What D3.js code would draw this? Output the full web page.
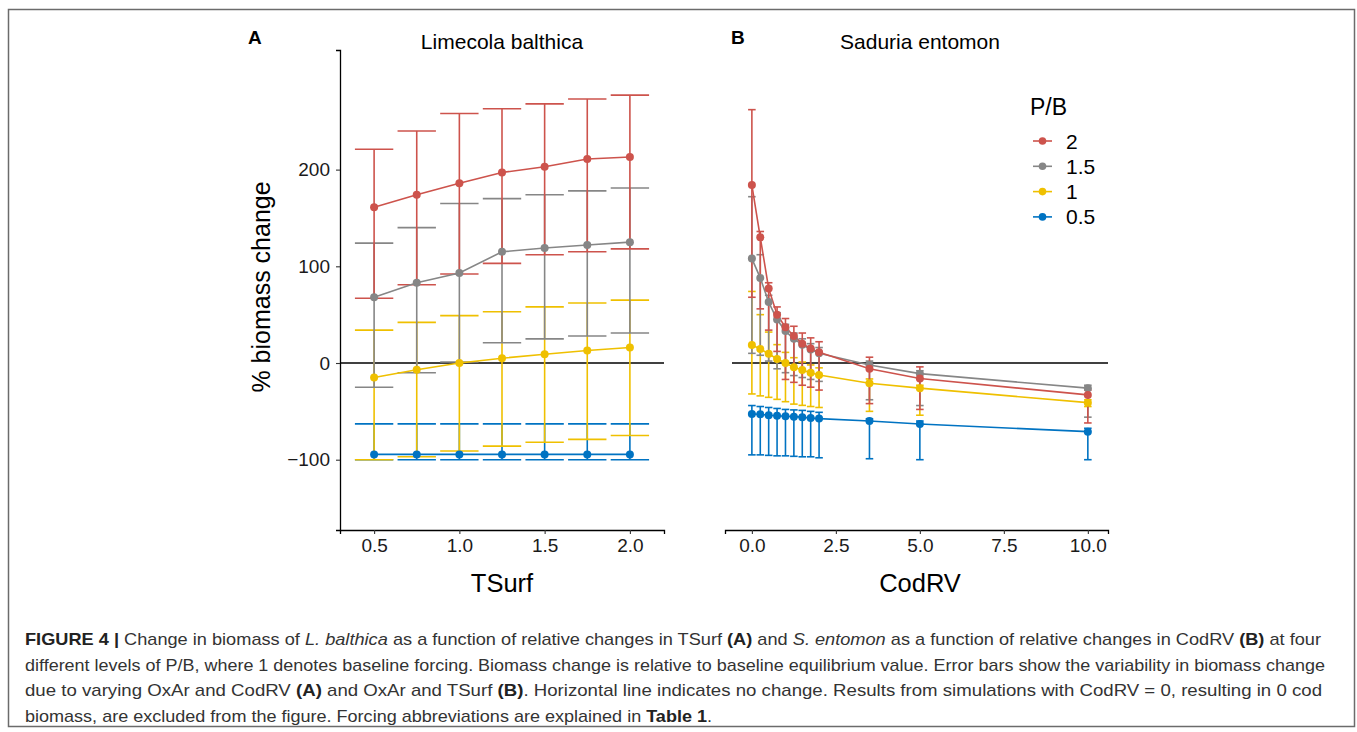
<!DOCTYPE html>
<html>
<head>
<meta charset="utf-8">
<script src="https://cdn.jsdelivr.net/npm/d3@7"></script>
<style>
  body { margin: 0; background: #fff; }
  svg { display: block; font-family: "Liberation Sans", Arial, sans-serif; }
</style>
</head>
<body>
<div id="app"></div>
<script>
// P/B levels, drawn in this order (2 ends up on top of the error bars)
const levels = ["0.5", "1", "1.5", "2"]
const legendOrder = ["2", "1.5", "1", "0.5"]
const colors = { "2": "#CD534C", "1.5": "#868686", "1": "#EFC000", "0.5": "#0073C2" }

// Panel A: Limecola balthica vs TSurf
const tsurf = [0.5, 0.75, 1, 1.25, 1.5, 1.75, 2]
const aMean2 = [161, 174, 186, 197, 203, 211, 213]
const aHigh2 = [221, 240, 258, 263, 268, 273, 277]
const aLow2 = [67, 81, 92, 103, 112, 115, 118]
const aMean15 = [68, 83, 93, 115, 119, 122, 125]
const aHigh15 = [124, 140, 165, 170, 174, 178, 181]
const aLow15 = [-25, -10, 1, 21, 25, 28, 31]
const aMean1 = [-15, -7, 0, 5, 9, 13, 16]
const aHigh1 = [34, 42, 49, 53, 58, 62, 65]
const aLow1 = [-100, -97, -91, -86, -82, -79, -75]
const aMean05 = [-94.5, -94.5, -94.5, -94.5, -94.5, -94.5, -94.5]
const aHigh05 = [-63, -63, -63, -63, -63, -63, -63]
const aLow05 = [-100, -100, -100, -100, -100, -100, -100]

// Panel B: Saduria entomon vs CodRV
const codrv = [0, 0.25, 0.5, 0.75, 1, 1.25, 1.5, 1.75, 2, 3.5, 5, 10]
const bMean2 = [184, 130, 77, 50, 37, 28, 20, 15, 11, -6, -16, -33]
const bHigh2 = [262, 136, 83, 58, 46, 38, 31, 26, 22, 6, -4, -28]
const bLow2 = [68, 56, 34, 12, -17, -20, -23, -25, -28, -42, -48, -62]
const bMean15 = [108, 88, 63, 45, 33, 25, 19, 14, 10, -2, -11, -26]
const bHigh15 = [172, 112, 70, 52, 40, 31, 25, 20, 16, 2, -8, -23]
const bLow15 = [10, 8, 2, -6, -10, -13, -15, -17, -19, -38, -44, -56]
const bMean1 = [18.6, 14.5, 9.6, 4.1, 0, -4.5, -7.2, -10, -12.4, -21, -26, -41]
const bHigh1 = [74, 50, 32, 19, 11, 5.5, 1, -2, -5, -16.5, -23, -38]
const bLow1 = [-32, -34, -35.5, -37.6, -40, -42.5, -43.8, -45, -46, -50, -54, -45]
const bMean05 = [-52.7, -53, -54, -54.5, -55, -55.5, -56, -57, -57.5, -60, -63, -71]
const bHigh05 = [-44, -45, -46, -47, -48, -48.5, -49, -50, -51, -57.6, -60, -67.5]
const bLow05 = [-95, -95, -95.5, -96, -96, -96.5, -97, -97, -98, -99, -100, -100]

const xTicksA = [0.5, 1.0, 1.5, 2.0]
const xTicksB = [0, 2.5, 5, 7.5, 10]
const yTicks = [-100, 0, 100, 200]

const captionLines = [
  [["FIGURE 4 | ", "b"], ["Change in biomass of "], ["L. balthica", "i"], [" as a function of relative changes in TSurf "], ["(A)", "b"], [" and "], ["S. entomon", "i"], [" as a function of relative changes in CodRV "], ["(B)", "b"], [" at four"]],
  [["different levels of P/B, where 1 denotes baseline forcing. Biomass change is relative to baseline equilibrium value. Error bars show the variability in biomass change"]],
  [["due to varying OxAr and CodRV "], ["(A)", "b"], [" and OxAr and TSurf "], ["(B)", "b"], [". Horizontal line indicates no change. Results from simulations with CodRV = 0, resulting in 0 cod"]],
  [["biomass, are excluded from the figure. Forcing abbreviations are explained in "], ["Table 1", "b"], ["."]]
]

function makeSeries(xs, means, highs, lows) {
  return xs.map((x, i) => ({ x: x, mean: means[i], high: highs[i], low: lows[i] }))
}

const panelA = {
  "2": makeSeries(tsurf, aMean2, aHigh2, aLow2),
  "1.5": makeSeries(tsurf, aMean15, aHigh15, aLow15),
  "1": makeSeries(tsurf, aMean1, aHigh1, aLow1),
  "0.5": makeSeries(tsurf, aMean05, aHigh05, aLow05)
}
const panelB = {
  "2": makeSeries(codrv, bMean2, bHigh2, bLow2),
  "1.5": makeSeries(codrv, bMean15, bHigh15, bLow15),
  "1": makeSeries(codrv, bMean1, bHigh1, bLow1),
  "0.5": makeSeries(codrv, bMean05, bHigh05, bLow05)
}

const width = 1357
const height = 732

const svg = d3.select("#app").append("svg")
  .attr("width", width)
  .attr("height", height)

// frame round the whole figure
svg.append("rect")
  .attr("x", 8.5).attr("y", 9.5)
  .attr("width", 1346).attr("height", 717)
  .attr("fill", "none")
  .attr("stroke", "#6b6b6b")
  .attr("stroke-width", 1.5)

// shared y scale
const plotTop = 50
const plotBottom = 530
const y = d3.scaleLinear().domain([-172.7, 323.7]).range([plotBottom, plotTop])

const xA = d3.scaleLinear().domain([0.30, 2.20]).range([340, 664])
const xB = d3.scaleLinear().domain([-0.8, 10.6]).range([725, 1108])

const capHalf = 0.1125 // error bar width 0.225 in data units
const tickFont = 19

function drawPanel(x, data, xTicks, tickFormat, hasYAxis) {
  const g = svg.append("g")
  const [x0, x1] = x.range()

  // zero line
  g.append("line")
    .attr("x1", hasYAxis ? x0 : x0 + 7).attr("x2", x1)
    .attr("y1", y(0)).attr("y2", y(0))
    .attr("stroke", "#000").attr("stroke-width", 1.6)

  // error bars
  levels.forEach(lv => {
    const eb = g.append("g").attr("stroke", colors[lv]).attr("stroke-width", 1.6).attr("fill", "none")
    data[lv].forEach(d => {
      eb.append("line").attr("x1", x(d.x)).attr("x2", x(d.x)).attr("y1", y(d.high)).attr("y2", y(d.low))
      eb.append("line").attr("x1", x(d.x - capHalf)).attr("x2", x(d.x + capHalf)).attr("y1", y(d.high)).attr("y2", y(d.high))
      eb.append("line").attr("x1", x(d.x - capHalf)).attr("x2", x(d.x + capHalf)).attr("y1", y(d.low)).attr("y2", y(d.low))
    })
  })

  // lines
  const line = d3.line().x(d => x(d.x)).y(d => y(d.mean))
  levels.forEach(lv => {
    g.append("path").datum(data[lv])
      .attr("d", line)
      .attr("fill", "none")
      .attr("stroke", colors[lv])
      .attr("stroke-width", 1.6)
  })

  // points
  levels.forEach(lv => {
    g.selectAll(null).data(data[lv]).join("circle")
      .attr("cx", d => x(d.x))
      .attr("cy", d => y(d.mean))
      .attr("r", 4)
      .attr("fill", colors[lv])
  })

  // x axis
  const ax = g.append("g")
    .attr("transform", `translate(0,${plotBottom})`)
    .call(d3.axisBottom(x).tickValues(xTicks).tickFormat(tickFormat).tickSizeOuter(0).tickSize(4).tickPadding(5))
  ax.select(".domain").attr("stroke", "#000").attr("stroke-width", 1.3)
  ax.selectAll(".tick line").attr("stroke", "#333").attr("stroke-width", 1.1)
  ax.selectAll(".tick text").attr("font-size", tickFont).attr("fill", "#1a1a1a").attr("font-family", "Liberation Sans, Arial, sans-serif")

  if (hasYAxis) {
    const ay = g.append("g")
      .attr("transform", `translate(${x0},0)`)
      .call(d3.axisLeft(y).tickValues(yTicks).tickFormat(d => d < 0 ? "\u2212" + Math.abs(d) : d).tickSizeOuter(0).tickSize(4).tickPadding(6))
    ay.select(".domain").attr("stroke", "#000").attr("stroke-width", 1.3)
    ay.selectAll(".tick line").attr("stroke", "#333").attr("stroke-width", 1.1)
    ay.selectAll(".tick text").attr("font-size", tickFont).attr("fill", "#1a1a1a").attr("font-family", "Liberation Sans, Arial, sans-serif")
  }
}

drawPanel(xA, panelA, xTicksA, d3.format(".1f"), true)
drawPanel(xB, panelB, xTicksB, d3.format(".1f"), false)

// panel titles and letters
svg.append("text").attr("x", 248).attr("y", 44).attr("font-size", 19).attr("font-weight", "bold").text("A")
svg.append("text").attr("x", 731).attr("y", 44).attr("font-size", 19).attr("font-weight", "bold").text("B")
svg.append("text").attr("x", 502).attr("y", 49).attr("font-size", 21).attr("text-anchor", "middle").text("Limecola balthica")
svg.append("text").attr("x", 920).attr("y", 49).attr("font-size", 21).attr("text-anchor", "middle").text("Saduria entomon")

// axis titles
svg.append("text").attr("x", 502).attr("y", 592).attr("font-size", 25.5).attr("text-anchor", "middle").text("TSurf")
svg.append("text").attr("x", 920).attr("y", 592).attr("font-size", 25.5).attr("text-anchor", "middle").text("CodRV")
svg.append("text")
  .attr("transform", `translate(270,287) rotate(-90)`)
  .attr("font-size", 25).attr("text-anchor", "middle")
  .text("% biomass change")

// legend
const legend = svg.append("g").attr("transform", "translate(1030,0)")
legend.append("text").attr("x", 0).attr("y", 115).attr("font-size", 23).text("P/B")
legendOrder.forEach((lv, i) => {
  const cy = 141 + i * 25.3
  legend.append("line").attr("x1", 3).attr("x2", 22).attr("y1", cy).attr("y2", cy)
    .attr("stroke", colors[lv]).attr("stroke-width", 1.6)
  legend.append("circle").attr("cx", 12.5).attr("cy", cy).attr("r", 3.8).attr("fill", colors[lv])
  legend.append("text").attr("x", 36).attr("y", cy + 7.5).attr("font-size", 21).text(lv)
})

// caption
const captionWidths = [1296, 1300, 1297, 687]
const cap = svg.append("g").attr("fill", "#333")
captionLines.forEach((parts, i) => {
  const t = cap.append("text")
    .attr("x", 25)
    .attr("y", 645 + i * 25.5)
    .attr("font-size", 17)
    .attr("textLength", captionWidths[i])
    .attr("lengthAdjust", "spacingAndGlyphs")
  parts.forEach(p => {
    t.append("tspan")
      .attr("font-weight", p[1] === "b" ? "bold" : null)
      .attr("font-style", p[1] === "i" ? "italic" : null)
      .attr("fill", p[1] === "b" ? "#222" : null)
      .text(p[0])
  })
})
</script>
</body>
</html>
